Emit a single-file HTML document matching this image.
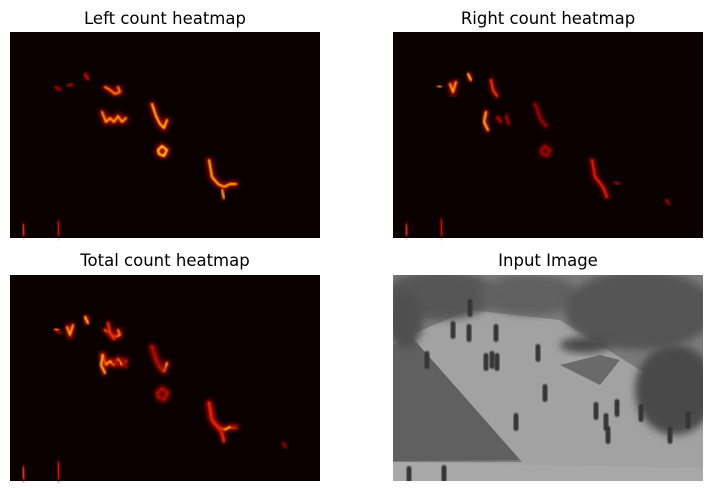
<!DOCTYPE html>
<html><head><meta charset="utf-8">
<style>
body{margin:0;background:#fff;width:712px;height:490px;overflow:hidden;font-family:"DejaVu Sans","Liberation Sans",sans-serif}
svg{display:block}
</style></head>
<body>
<svg id="fig" width="712" height="490">
<defs>
<filter id="glow" x="-50%" y="-50%" width="200%" height="200%"><feGaussianBlur stdDeviation="2"/></filter>
<filter id="blur1" x="-50%" y="-50%" width="200%" height="200%"><feGaussianBlur stdDeviation="0.7"/></filter>
<filter id="soft" x="-20%" y="-20%" width="140%" height="140%"><feGaussianBlur stdDeviation="4"/></filter>
<filter id="psoft"><feGaussianBlur stdDeviation="0.8"/></filter>
<clipPath id="imgclip"><rect x="393" y="275" width="310" height="206"/></clipPath>
</defs>
<g font-size="16.5" fill="#000" text-anchor="middle" font-family="DejaVu Sans, sans-serif">
<text x="165" y="24">Left count heatmap</text>
<text x="548" y="24">Right count heatmap</text>
<text x="165" y="266">Total count heatmap</text>
<text x="548" y="266">Input Image</text>
</g>
<g id="panels"></g>
<g id="photo" clip-path="url(#imgclip)">
<rect x="393" y="275" width="310" height="206" fill="#7a7a7a"/>
<polygon points="393,345 420,330 520,460 393,461" fill="#606060"/>
<polygon points="410,335 470,310 560,320 640,370 703,410 703,481 393,481 393,462 522,462" fill="#a2a2a2"/>
<polygon points="393,462 703,468 703,481 393,481" fill="#a8a8a8"/>
<polygon points="560,365 600,355 620,360 600,385" fill="#6a6a6a"/>
<ellipse cx="440" cy="295" rx="55" ry="25" fill="#575757" filter="url(#soft)"/>
<ellipse cx="530" cy="295" rx="50" ry="20" fill="#606060" filter="url(#soft)"/>
<ellipse cx="640" cy="310" rx="75" ry="40" fill="#555" filter="url(#soft)"/>
<ellipse cx="675" cy="390" rx="40" ry="45" fill="#4a4a4a" filter="url(#soft)"/>
<ellipse cx="405" cy="320" rx="18" ry="28" fill="#505050" filter="url(#soft)"/>
<ellipse cx="585" cy="345" rx="25" ry="8" fill="#4a4a4a" filter="url(#soft)"/>
</g>
<script>
// Heat strokes per panel: [x, y] points in panel pixel units (0-310, 0-206), plus intensity (0-1)
const leftStrokes = [
 [[[95,55],[100,58],[105,62],[110,60],[108,55]],0.7],
 [[[92,80],[96,90],[100,86],[104,90],[108,84],[112,90],[116,86]],0.75],
 [[[142,72],[146,84],[150,92],[154,96],[157,88]],0.8],
 [[[148,118],[152,114],[157,118],[154,124],[149,122],[148,118]],0.85],
 [[[199,128],[202,145],[208,152],[214,155],[220,152],[226,152]],0.8],
 [[[212,158],[214,166]],0.75],
 [[[46,55],[50,58]],0.3],[[[58,54],[62,52]],0.3],[[[75,42],[78,47]],0.4],
 [[[13,193],[14,203]],0.55],[[[48,190],[49,203]],0.45]
];
const rightStrokes = [
 [[[45,54],[48,55]],0.7],[[[57,52],[60,60],[63,50]],0.75],[[[75,42],[78,48]],0.8],
 [[[98,48],[100,58],[104,64]],0.55],
 [[[93,80],[91,90],[95,98]],0.8],[[[104,85],[108,90]],0.35],[[[113,84],[116,92]],0.3],
 [[[142,72],[148,88],[153,94]],0.3],
 [[[148,118],[152,114],[157,118],[154,124],[149,122],[148,118]],0.3],
 [[[199,128],[202,145],[210,155],[214,165]],0.5],
 [[[222,150],[226,152]],0.25],[[[273,168],[276,172]],0.25],
 [[[13,193],[14,203]],0.55],[[[48,188],[49,203]],0.45]
];
const totalStrokes = leftStrokes.concat(rightStrokes);
const panelOrigins = [[10,32],[393,32],[10,275]];
const panelData = [leftStrokes, rightStrokes, totalStrokes];
const panelNames = ['left-count-heatmap','right-count-heatmap','total-count-heatmap'];

function hot(v){
  v=Math.max(0,Math.min(1,v));
  const r=Math.min(1,v/0.45), g=Math.max(0,Math.min(1,(v-0.45)/0.45)), b=Math.max(0,(v-0.9)/0.1);
  return `rgb(${Math.round(30+225*r)},${Math.round(255*g)},${Math.round(255*b)})`;
}
const NS='http://www.w3.org/2000/svg';
const pg=document.getElementById('panels');
panelData.forEach((strokes,i)=>{
  const [ox,oy]=panelOrigins[i];
  const g=document.createElementNS(NS,'g');
  
  
  const bg=document.createElementNS(NS,'rect');
  bg.setAttribute('x',ox);bg.setAttribute('y',oy);bg.setAttribute('width',310);bg.setAttribute('height',206);
  bg.setAttribute('fill','#0a0000');
  g.appendChild(bg);
  strokes.forEach(([pts,v])=>{
    const d=pts.map(p=>(ox+p[0])+','+(oy+p[1])).join(' ');
    const halo=document.createElementNS(NS,'polyline');
    halo.setAttribute('points',d);halo.setAttribute('fill','none');
    halo.setAttribute('stroke',hot(v*0.45));halo.setAttribute('stroke-width',5);
    halo.setAttribute('stroke-linecap','round');halo.setAttribute('filter','url(#glow)');
    
    
    g.appendChild(halo);
    const pl=document.createElementNS(NS,'polyline');
    pl.setAttribute('points',d);pl.setAttribute('fill','none');
    pl.setAttribute('stroke',hot(v));pl.setAttribute('stroke-width',2);
    pl.setAttribute('stroke-linecap','round');pl.setAttribute('stroke-linejoin','round');
    pl.setAttribute('filter','url(#blur1)');
    
    
    g.appendChild(pl);
  });
  pg.appendChild(g);
});
// people in photo: [x, y] panel units
const people=[[34,85],[93,87],[99,85],[104,87],[152,118],[123,147],[203,136],[213,147],[224,133],[215,160],[248,138],[295,145],[277,160],[16,200],[51,199],[60,55],[76,58],[103,58],[77,33],[145,78]];
const ph=document.getElementById('photo');
people.forEach(([x,y])=>{
  const e=document.createElementNS(NS,'rect');
  e.setAttribute('x',393+x-2.5);e.setAttribute('y',275+y-9);e.setAttribute('width',5);e.setAttribute('height',18);
  e.setAttribute('rx',2.5);e.setAttribute('fill','#353535');e.setAttribute('filter','url(#psoft)');
  
  
  ph.appendChild(e);
});
</script>
</svg>
</body></html>
